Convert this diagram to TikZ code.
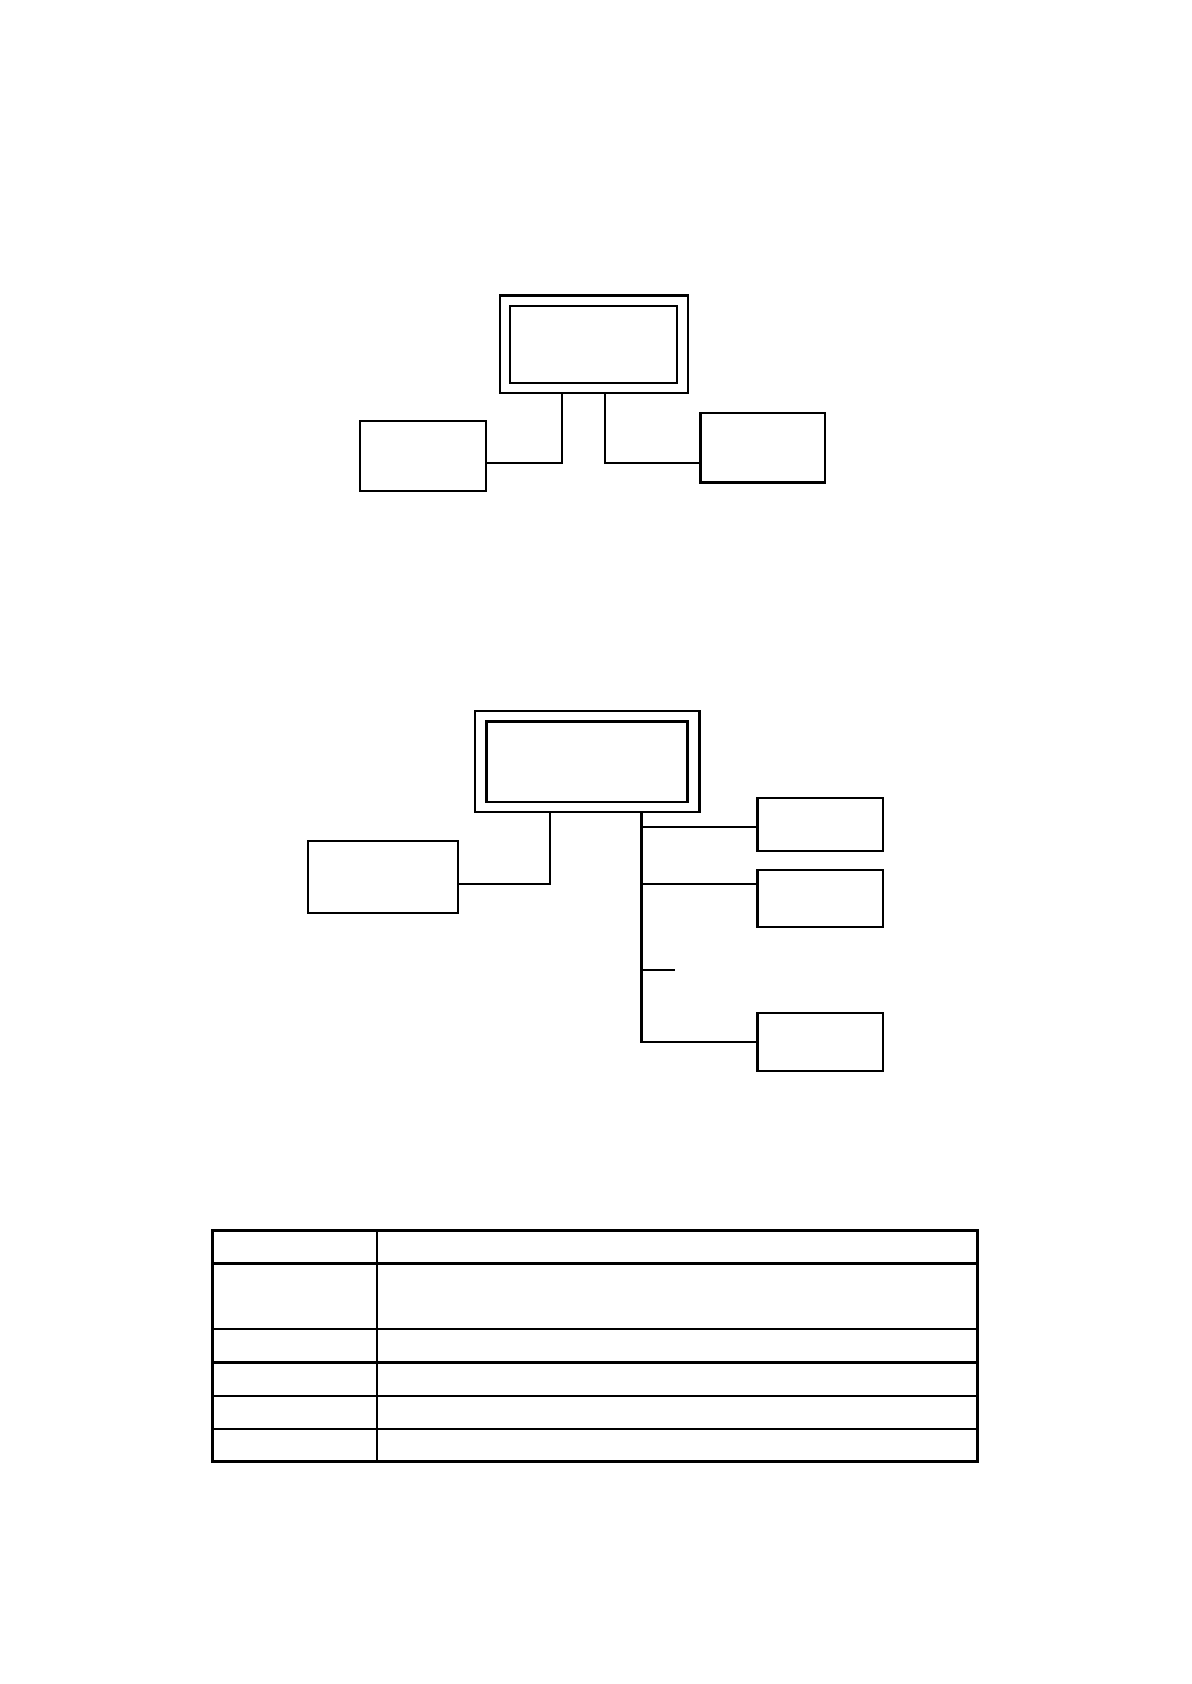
\documentclass[tikz,border=0pt]{standalone}
\usepackage{tikz}
\usetikzlibrary{positioning}
\usetikzlibrary{calc}
\newcommand{\px}{0.5412pt}
\tikzset{frame/.style = {draw, line width = 1.1pt, inner sep = 0, minimum width = #1}}
\tikzset{wire/.style = {line width = 1.1pt}}

\begin{document}
\begin{tikzpicture}[x = 0.5412pt, y = -0.5412pt, line join = miter]
          \useasboundingbox (0, 0) rectangle (1108.5, 1567.3);
          % first chart
          \node [frame = 175*\px, minimum height = 91*\px] (top1) at (552.5, 320.5) {};
          \node [frame = 155*\px, minimum height = 72*\px, line width = 0.9pt] (top1in) at (top1) {};
          \node [frame = 117*\px, minimum height = 65*\px] (left1) at (393.5, 424.5) {};
          \node [frame = 116*\px, minimum height = 65*\px] (right1) at (710, 416.5) {};
          \draw [wire] ($(top1.south) + (-29.5, 0)$) |- ($(left1.east) + (0, 6.5)$);
          \draw [wire] ($(top1.south) + (10.5, 0)$) |- ($(right1.west) + (0, 14.5)$);
          % second chart
          \node [frame = 209*\px, minimum height = 94*\px] (top2) at (546.5, 709) {};
          \node [frame = 187*\px, minimum height = 75*\px, line width = 1.3pt] (top2in) at (top2) {};
          \node [frame = 139*\px, minimum height = 67*\px] (left2) at (356.5, 816.5) {};
          \node [frame = 117*\px, minimum height = 49*\px] (r1) at (763.5, 767.5) {};
          \node [frame = 117*\px, minimum height = 53*\px] (r2) at (763.5, 836.5) {};
          \node [frame = 117*\px, minimum height = 54*\px] (r3) at (763.5, 970) {};
          \draw [wire] ($(top2.south) + (-34.5, 0)$) |- ($(left2.east) + (0, 6.5)$);
          \coordinate (bus) at ($(top2.south) + (50.5, 0)$);
          \coordinate (stub) at (628, 903);
          \draw [wire] (bus) |- (r3.west);
          \draw [wire] (bus |- r1.west) ++(0, 2.5) -- ($(r1.west) + (0, 2.5)$);
          \draw [wire] (bus |- r2.west) ++(0, -13.5) -- ($(r2.west) + (0, -13.5)$);
          \draw [wire] (bus |- stub) -- (stub);
          % table
          \foreach \y in {1176, 1237, 1268, 1299, 1330} {
             \draw [wire] (198, \y) -- (910, \y);
          }
          \draw [wire] (351, 1145) -- (351, 1360);
          \draw [line width = 1.5pt] (198, 1145) rectangle (910, 1360);
        \end{tikzpicture}
\end{document}
